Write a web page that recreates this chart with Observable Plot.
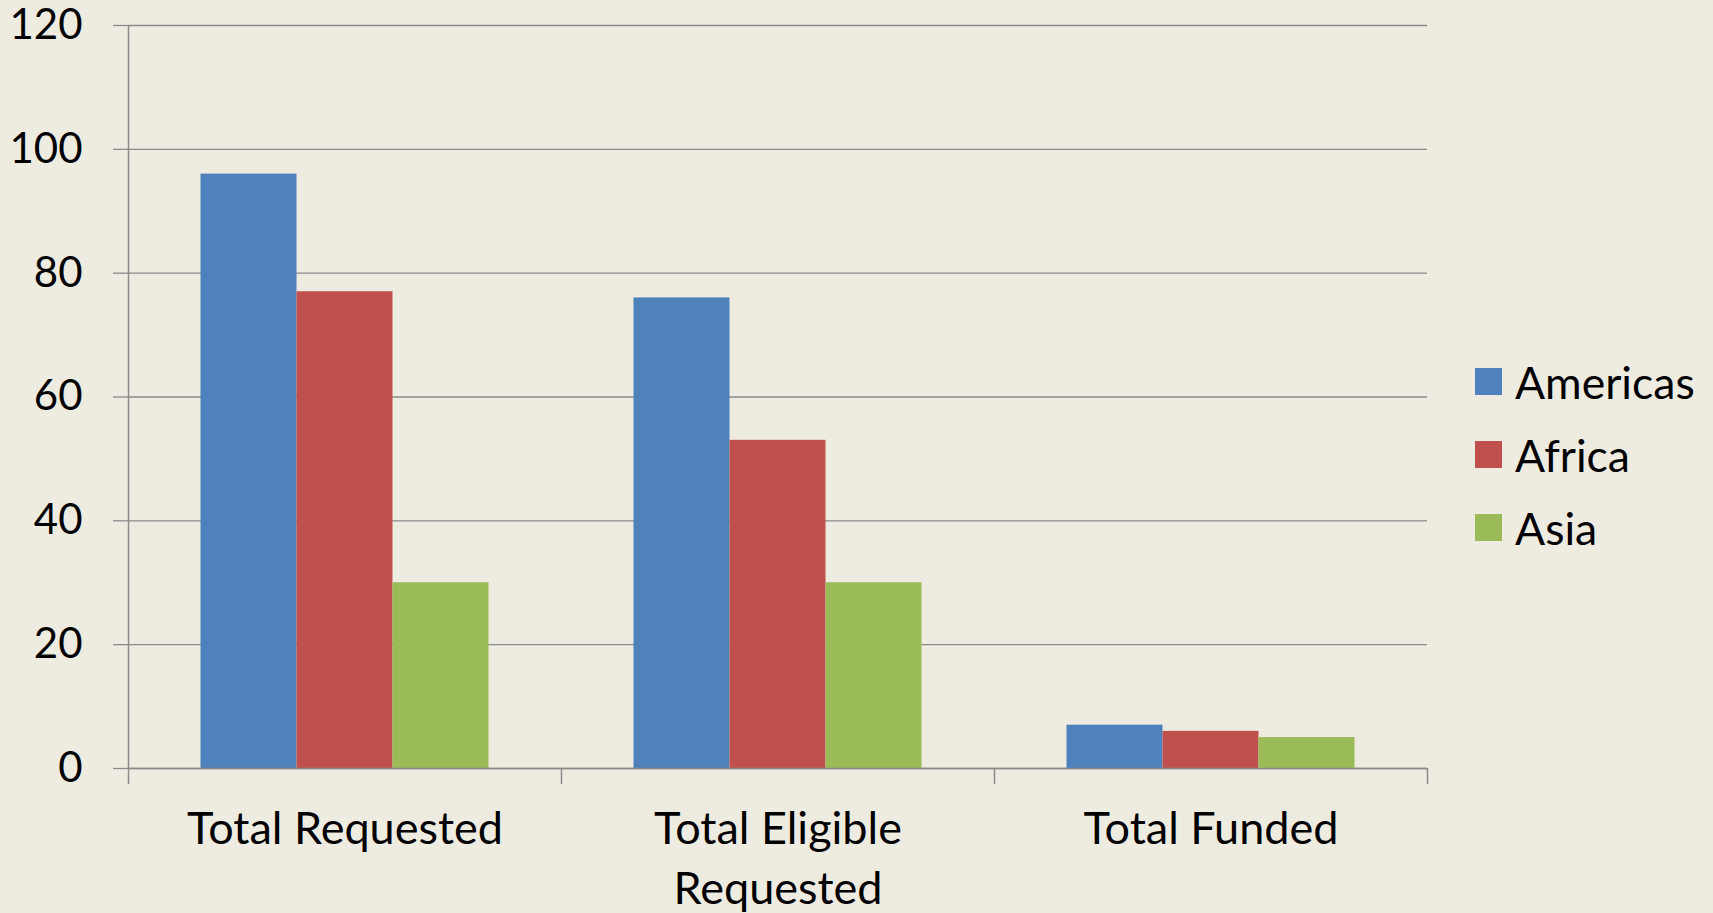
<!DOCTYPE html>
<html>
<head>
<meta charset="utf-8">
<script src="https://cdn.jsdelivr.net/npm/d3@7"></script>
<script src="https://cdn.jsdelivr.net/npm/@observablehq/plot@0.6"></script>
<style>
  html, body { margin: 0; padding: 0; background: #EEECE1; }
  #wrap { position: relative; width: 1713px; height: 913px; overflow: hidden; }
  #legend { position: absolute; left: 1475px; top: 345px; font-family: Lato, sans-serif; font-size: 44.5px; color: #000; }
  .item { display: flex; align-items: center; height: 73px; }
  .sw { width: 27px; height: 27px; margin-right: 13px; }
</style>
</head>
<body>
<div id="wrap"><div id="legend"></div></div>
<script>
const categories = ["Total Requested", "Total Eligible Requested", "Total Funded"];
const categoryLabels = ["Total Requested", "Total Eligible\nRequested", "Total Funded"];
const series = ["Americas", "Africa", "Asia"];
const americas = [96, 76, 7];
const africa = [77, 53, 6];
const asia = [30, 30, 5];
const yTicks = [0, 20, 40, 60, 80, 100, 120];
const colors = ["#4F81BD", "#C0504D", "#9BBB59"];

const values = {Americas: americas, Africa: africa, Asia: asia};
const grey = "#8a8a8a";

// within-category band scale (category i spans [i, i+1] on x)
const inner = d3.scaleBand().domain(series).range([0, 1]).paddingInner(0).paddingOuter(0.755);

const rows = [];
categories.forEach((c, i) => {
  series.forEach(s => {
    rows.push({category: c, series: s, value: values[s][i],
      x1: i + inner(s), x2: i + inner(s) + inner.bandwidth()});
  });
});
const catRows = categories.map((c, i) => ({label: categoryLabels[i], mid: i + 0.5}));

const chart = Plot.plot({
  width: 1713,
  height: 913,
  marginLeft: 128,
  marginRight: 286,
  marginTop: 25,
  marginBottom: 145,
  style: {background: "transparent", fontFamily: "Lato, sans-serif", fontSize: "42px", color: "#000", overflow: "visible"},
  x: {domain: [0, 3], axis: null},
  y: {domain: [0, 120], axis: null},
  color: {domain: series, range: colors},
  marks: [
    Plot.gridY(yTicks, {stroke: grey, strokeOpacity: 1, strokeWidth: 1.3}),
    Plot.axisY(yTicks, {label: null, tickSize: 15, tickPadding: 31, stroke: grey, strokeWidth: 1.3, fill: "#000", fontSize: 42}),
    Plot.rectY(rows, {x1: "x1", x2: "x2", y: "value", fill: "series"}),
    Plot.ruleY([0], {stroke: grey, strokeWidth: 1.5}),
    Plot.ruleX([0], {y1: 0, y2: 120, stroke: grey, strokeWidth: 1.5}),
    Plot.axisX([0, 1, 2, 3], {label: null, tickSize: 16, tickFormat: () => "", stroke: grey, strokeWidth: 1.5}),
    Plot.text(catRows, {x: "mid", y: () => 0, text: "label", lineAnchor: "top", dy: 33, lineHeight: 1.33, fill: "#000", fontSize: 45})
  ]
});
document.getElementById("wrap").prepend(chart);

const legend = document.getElementById("legend");
series.forEach((s, i) => {
  const item = document.createElement("div");
  item.className = "item";
  const sw = document.createElement("div");
  sw.className = "sw";
  sw.style.background = colors[i];
  const t = document.createElement("span");
  t.textContent = s;
  item.append(sw, t);
  legend.append(item);
});
</script>
</body>
</html>
